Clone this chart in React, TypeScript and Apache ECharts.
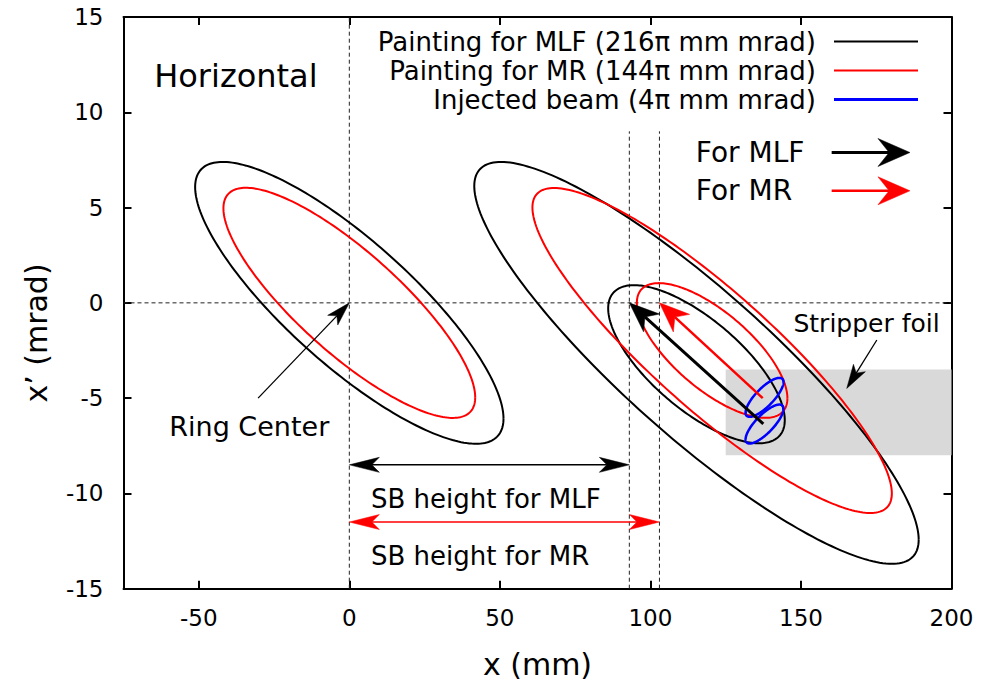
import React, { useEffect, useRef } from 'react';
import * as echarts from 'echarts';

const FONT = '"DejaVu Sans", "Liberation Sans", sans-serif';

// Axis ticks: x in mm, x' in mrad
const xTicks = [-50, 0, 50, 100, 150, 200];
const yTicks = [-15, -10, -5, 0, 5, 10, 15];

const seriesNames = [
  'Painting for MLF (216π mm mrad)',
  'Painting for MR (144π mm mrad)',
  'Injected beam (4π mm mrad)',
];

// Phase-space ellipses:
// [centre x (mm), centre x' (mrad), emittance (π mm mrad), beta (m), alpha]
const mlfEllipses = [
  [0, 0, 216, 12.14, 1.44],
  [115.3, -3.15, 370, 14.72, 1.85],
  [115.3, -3.22, 86, 10, 1.0],
];
const mrEllipses = [
  [0, 0, 144, 12.14, 1.44],
  [120.5, -2.5, 242, 14.72, 1.85],
  [120.5, -2.5, 62.5, 10, 1.0],
];
const beamEllipses = [
  [137.9, -4.96, 4, 9.9, -1.26],
  [137.9, -6.36, 4, 9.9, -1.26],
];

// Shift-bump heights (mm): MLF, MR
const sbHeights = [93, 103];

// Stripper foil: [x from, x' from, x to, x' to]
const foil = [[125, -3.5, 200, -8]];

// Dashed reference lines: [x1, x'1, x2, x'2]
const guides = [
  [0, -15, 0, 15],
  [-75, 0, 200, 0],
  [sbHeights[0], -15, sbHeights[0], 9],
  [sbHeights[1], -15, sbHeights[1], 9],
];

// Arrows: [x1, x'1, x2, x'2], head at the second point
const shiftArrows = [
  [137.5, -6.35, sbHeights[0], 0],
  [137.3, -5.0, sbHeights[1], 0],
];
const sbArrows = [
  [0, -8.5, sbHeights[0], -8.5],
  [0, -11.5, sbHeights[1], -11.5],
];
const pointerArrows = [
  [-30.3, -5, 0, 0],
  [175.2, -1.95, 165.2, -4.49],
];
const keyArrows = [
  [160.2, 7.89, 186.2, 7.89],
  [160.2, 5.88, 186.2, 5.88],
];

// Text annotations, anchored at their left edge / vertical middle
const labelTexts = [
  'Horizontal',
  'Ring Center',
  'Stripper foil',
  'For MLF',
  'For MR',
  'SB height for MLF',
  'SB height for MR',
];
const labelAnchors = [
  [-64.8, 11.91],
  [-59.8, -6.5],
  [147.5, -1.08],
  [115.1, 7.89],
  [115.1, 5.88],
  [7.2, -10.28],
  [7.2, -13.26],
];
const labelSizes = [32, 27, 25, 28, 28, 26, 26];

const BLACK = '#000000';
const RED = '#ff0000';
const BLUE = '#0000ff';

// Closed ellipse gamma*x^2 + 2*alpha*x*x' + beta*x'^2 = emittance around its centre
function ellipseRenderer(color: string, width: number) {
  return (_params: any, api: any) => {
    const cx = api.value(0);
    const cy = api.value(1);
    const eps = api.value(2);
    const beta = api.value(3);
    const alpha = api.value(4);
    const a = Math.sqrt(eps * beta);
    const b = Math.sqrt(eps / beta);
    const pts: number[][] = [];
    const n = 240;
    for (let i = 0; i <= n; i++) {
      const t = (2 * Math.PI * i) / n;
      pts.push(api.coord([cx + a * Math.cos(t), cy - b * (alpha * Math.cos(t) + Math.sin(t))]));
    }
    return {
      type: 'polyline',
      shape: { points: pts },
      style: { stroke: color, lineWidth: width, fill: null },
    };
  };
}

type Head = { len: number; half: number; notch: number };

function arrowRenderer(colors: string[], widths: number[], head: Head, both: boolean) {
  return (params: any, api: any) => {
    const p1 = api.coord([api.value(0), api.value(1)]);
    const p2 = api.coord([api.value(2), api.value(3)]);
    const i = params.dataIndex;
    const color = colors[i % colors.length];
    const lw = widths[i % widths.length];
    const dx = p2[0] - p1[0];
    const dy = p2[1] - p1[1];
    const d = Math.hypot(dx, dy) || 1;
    const ux = dx / d;
    const uy = dy / d;
    const nx = -uy;
    const ny = ux;
    const makeHead = (tip: number[], s: number) => {
      const bx = tip[0] - s * ux * head.len;
      const by = tip[1] - s * uy * head.len;
      const cx = tip[0] - s * ux * head.len * (1 - head.notch);
      const cy = tip[1] - s * uy * head.len * (1 - head.notch);
      return {
        points: [tip, [bx + nx * head.half, by + ny * head.half], [cx, cy], [bx - nx * head.half, by - ny * head.half]],
        base: [cx, cy],
      };
    };
    const children: any[] = [];
    const end = makeHead(p2, 1);
    let start = p1;
    if (both) {
      const h = makeHead(p1, -1);
      start = h.base;
      children.push({ type: 'polygon', shape: { points: h.points }, style: { fill: color, stroke: color, lineWidth: 0.5 } });
    }
    children.push({
      type: 'line',
      shape: { x1: start[0], y1: start[1], x2: end.base[0], y2: end.base[1] },
      style: { stroke: color, lineWidth: lw },
    });
    children.push({ type: 'polygon', shape: { points: end.points }, style: { fill: color, stroke: color, lineWidth: 0.5 } });
    return { type: 'group', children };
  };
}

export default function App() {
  const ref = useRef<HTMLDivElement>(null);

  useEffect(() => {
    document.body.style.margin = '0';
    if (!ref.current) return;
    const chart = echarts.init(ref.current, null, { renderer: 'svg' });

    const thinKey = 'path://M0,0H84V2H0Z';

    const option: any = {
      animation: false,
      backgroundColor: '#ffffff',
      color: [BLACK, RED, BLUE],
      textStyle: { fontFamily: FONT },
      grid: {
        left: 123.5,
        right: 29.5,
        top: 17,
        bottom: 94.3,
        outerBoundsMode: 'none',
      },
      legend: {
        show: true,
        orient: 'vertical',
        align: 'right',
        right: 63,
        top: 27,
        padding: 0,
        itemGap: 0,
        itemWidth: 84,
        itemHeight: 3,
        selectedMode: false,
        textStyle: { fontFamily: FONT, fontSize: 26, color: BLACK, lineHeight: 29, padding: [0, 13, 0, 0] },
        data: [
          { name: seriesNames[0], icon: thinKey },
          { name: seriesNames[1], icon: thinKey },
          { name: seriesNames[2], icon: 'rect' },
        ],
      },
      xAxis: [
        {
          type: 'value',
          min: -75,
          max: 200,
          position: 'bottom',
          axisLine: { show: true, onZero: false, lineStyle: { color: BLACK, width: 2 } },
          axisTick: { show: true, inside: true, length: 8, lineStyle: { color: BLACK, width: 2 }, customValues: xTicks },
          axisLabel: { show: true, customValues: xTicks, color: BLACK, fontSize: 23, fontFamily: FONT, margin: 18 },
          splitLine: { show: false },
          name: 'x (mm)',
          nameLocation: 'middle',
          nameGap: 76,
          nameTextStyle: { color: BLACK, fontSize: 30, fontFamily: FONT, verticalAlign: 'middle' },
        },
        {
          type: 'value',
          min: -75,
          max: 200,
          position: 'top',
          axisLine: { show: true, onZero: false, lineStyle: { color: BLACK, width: 2 } },
          axisTick: { show: true, inside: true, length: 8, lineStyle: { color: BLACK, width: 2 }, customValues: xTicks },
          axisLabel: { show: false },
          splitLine: { show: false },
        },
      ],
      yAxis: [
        {
          type: 'value',
          min: -15,
          max: 15,
          interval: 5,
          position: 'left',
          axisLine: { show: true, onZero: false, lineStyle: { color: BLACK, width: 2 } },
          axisTick: { show: true, inside: true, length: 8, lineStyle: { color: BLACK, width: 2 }, customValues: yTicks },
          axisLabel: { show: true, customValues: yTicks, color: BLACK, fontSize: 23, fontFamily: FONT, margin: 20 },
          splitLine: { show: false },
        },
        {
          type: 'value',
          min: -15,
          max: 15,
          interval: 5,
          position: 'right',
          axisLine: { show: true, onZero: false, lineStyle: { color: BLACK, width: 2 } },
          axisTick: { show: true, inside: true, length: 8, lineStyle: { color: BLACK, width: 2 }, customValues: yTicks },
          axisLabel: { show: false },
          splitLine: { show: false },
        },
      ],
      graphic: [
        {
          type: 'text',
          x: 36,
          y: 333,
          rotation: Math.PI / 2,
          style: {
            text: 'x’ (mrad)',
            fontSize: 30,
            fontFamily: FONT,
            fill: BLACK,
            align: 'center',
            verticalAlign: 'middle',
          },
        },
      ],
      series: [
        {
          type: 'custom',
          name: 'foil',
          z: 1,
          silent: true,
          data: foil,
          encode: { x: [0, 2], y: [1, 3] },
          renderItem: (_p: any, api: any) => {
            const a = api.coord([api.value(0), api.value(1)]);
            const b = api.coord([api.value(2), api.value(3)]);
            return {
              type: 'rect',
              shape: { x: a[0], y: a[1], width: b[0] - a[0], height: b[1] - a[1] },
              style: { fill: '#d9d9d9' },
            };
          },
        },
        {
          type: 'custom',
          name: 'guides',
          z: 2,
          silent: true,
          data: guides,
          encode: { x: [0, 2], y: [1, 3] },
          renderItem: (_p: any, api: any) => {
            const a = api.coord([api.value(0), api.value(1)]);
            const b = api.coord([api.value(2), api.value(3)]);
            return {
              type: 'line',
              shape: { x1: a[0], y1: a[1], x2: b[0], y2: b[1] },
              style: { stroke: '#222222', lineWidth: 1, lineDash: [4, 3] },
            };
          },
        },
        {
          type: 'custom',
          name: seriesNames[0],
          z: 3,
          itemStyle: { color: BLACK },
          data: mlfEllipses,
          encode: { x: 0, y: 1 },
          renderItem: ellipseRenderer(BLACK, 2),
        },
        {
          type: 'custom',
          name: seriesNames[1],
          z: 4,
          itemStyle: { color: RED },
          data: mrEllipses,
          encode: { x: 0, y: 1 },
          renderItem: ellipseRenderer(RED, 2),
        },
        {
          type: 'custom',
          name: seriesNames[2],
          z: 5,
          itemStyle: { color: BLUE },
          data: beamEllipses,
          encode: { x: 0, y: 1 },
          renderItem: ellipseRenderer(BLUE, 2.5),
        },
        {
          type: 'custom',
          name: 'shift',
          z: 6,
          silent: true,
          data: shiftArrows,
          encode: { x: [0, 2], y: [1, 3] },
          renderItem: arrowRenderer([BLACK, RED], [3, 2.5], { len: 30, half: 12, notch: 0.3 }, false),
        },
        {
          type: 'custom',
          name: 'sb',
          z: 6,
          silent: true,
          data: sbArrows,
          encode: { x: [0, 2], y: [1, 3] },
          renderItem: arrowRenderer([BLACK, RED], [1.5, 1.5], { len: 30, half: 7.5, notch: 0.25 }, true),
        },
        {
          type: 'custom',
          name: 'pointers',
          z: 6,
          silent: true,
          data: pointerArrows,
          encode: { x: [0, 2], y: [1, 3] },
          renderItem: arrowRenderer([BLACK], [1.3], { len: 24, half: 7, notch: 0.25 }, false),
        },
        {
          type: 'custom',
          name: 'keys',
          z: 6,
          silent: true,
          data: keyArrows,
          encode: { x: [0, 2], y: [1, 3] },
          renderItem: arrowRenderer([BLACK, RED], [3, 2.5], { len: 32, half: 14, notch: 0.35 }, false),
        },
        {
          type: 'custom',
          name: 'labels',
          z: 7,
          silent: true,
          data: labelAnchors,
          encode: { x: 0, y: 1 },
          renderItem: (p: any, api: any) => {
            const pt = api.coord([api.value(0), api.value(1)]);
            return {
              type: 'text',
              x: pt[0],
              y: pt[1],
              style: {
                text: labelTexts[p.dataIndex],
                fontSize: labelSizes[p.dataIndex],
                fontFamily: FONT,
                fill: BLACK,
                align: 'left',
                verticalAlign: 'middle',
              },
            };
          },
        },
      ],
    };

    chart.setOption(option);
    return () => {
      chart.dispose();
    };
  }, []);

  return (
    <div
      ref={ref}
      style={{ position: 'fixed', left: 0, top: 0, width: 981, height: 683, background: '#fff' }}
    />
  );
}
